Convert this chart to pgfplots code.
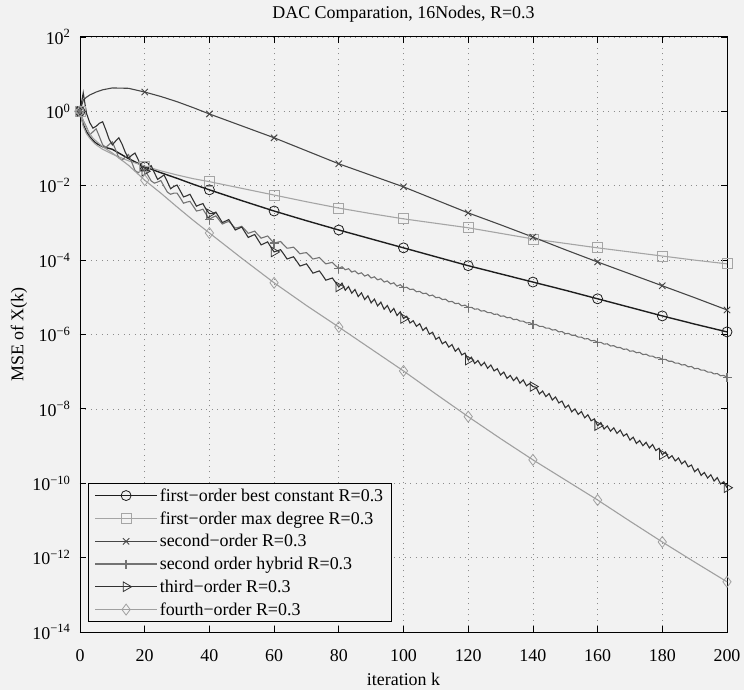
\documentclass[border=0pt]{standalone}
\usepackage{fontspec}
\setmainfont{Liberation Serif}
\usepackage{pgfplots}
\pgfplotsset{compat=1.18}
\usepackage{pgfplotstable}
\definecolor{bg}{RGB}{242,242,242}
\definecolor{c1}{RGB}{30,30,30}
\definecolor{c2}{RGB}{165,165,165}
\definecolor{c3}{RGB}{70,70,70}
\definecolor{c4}{RGB}{115,115,115}
\definecolor{c5}{RGB}{50,50,50}
\definecolor{c6}{RGB}{160,160,160}
\newcommand\f{\fontsize{18}{21.6}\selectfont}

\pgfplotsset{
  legend image code/.code={\draw[mark repeat=2,mark phase=2,#1] plot coordinates {(0bp,0bp) (31bp,0bp) (62bp,0bp)};},
}

% log10 of MSE
\pgfplotstableread{
k bc md so fo
0 0 0 0 0
1 -0.35 -0.40 0.30 -0.25
2 -0.55 -0.60 0.38 -0.45
3 -0.68 -0.72 0.44 -0.60
4 -0.78 -0.82 0.48 -0.72
5 -0.86 -0.90 0.52 -0.80
7 -0.95 -1.02 0.58 -0.95
10 -1.02 -1.15 0.63 -1.12
15 -1.27 -1.33 0.62 -1.45
20 -1.49 -1.47 0.52 -1.85
25 -1.65 -1.60 0.40 -2.20
30 -1.80 -1.71 0.26 -2.57
35 -1.96 -1.81 0.10 -2.93
40 -2.11 -1.89 -0.07 -3.27
50 -2.40 -2.07 -0.39 -3.95
60 -2.68 -2.25 -0.71 -4.61
70 -2.94 -2.43 -1.06 -5.22
80 -3.19 -2.60 -1.41 -5.80
90 -3.43 -2.75 -1.72 -6.39
100 -3.67 -2.89 -2.03 -6.98
110 -3.91 -3.01 -2.38 -7.60
120 -4.15 -3.13 -2.73 -8.21
130 -4.37 -3.28 -3.05 -8.80
140 -4.59 -3.43 -3.38 -9.37
150 -4.81 -3.55 -3.72 -9.91
160 -5.04 -3.67 -4.05 -10.45
170 -5.27 -3.78 -4.37 -11.02
180 -5.50 -3.89 -4.69 -11.58
190 -5.72 -4.00 -5.01 -12.12
200 -5.93 -4.10 -5.34 -12.65
}\smoothdata

\pgfplotstableread{
k th hy
0 0.00 0.00
1 0.50 -0.25
2 -0.05 -0.42
3 -0.30 -0.63
4 -0.45 -0.55
5 -0.40 -0.47
6 -0.32 -0.68
7 -0.28 -0.90
8 -0.50 -0.97
9 -0.75 -0.89
10 -0.90 -0.82
11 -0.80 -1.03
12 -0.71 -1.25
13 -0.88 -1.31
14 -1.10 -1.23
15 -1.26 -1.16
16 -1.18 -1.37
17 -1.12 -1.59
18 -1.30 -1.65
19 -1.50 -1.57
20 -1.61 -1.56
21 -1.52 -1.72
22 -1.46 -1.87
23 -1.65 -1.93
24 -1.83 -1.90
25 -1.77 -1.86
26 -1.71 -2.02
27 -1.89 -2.17
28 -2.08 -2.23
29 -2.02 -2.20
30 -1.98 -2.20
31 -2.14 -2.33
32 -2.30 -2.47
33 -2.27 -2.44
34 -2.23 -2.42
35 -2.39 -2.55
36 -2.55 -2.68
37 -2.51 -2.66
38 -2.48 -2.63
39 -2.64 -2.77
40 -2.75 -2.90
41 -2.75 -2.85
42 -2.71 -2.81
43 -2.85 -2.92
44 -2.99 -3.03
45 -2.95 -2.99
46 -2.91 -2.96
47 -3.05 -3.05
48 -3.19 -3.14
49 -3.15 -3.12
50 -3.11 -3.09
51 -3.25 -3.18
52 -3.39 -3.28
53 -3.35 -3.25
54 -3.31 -3.22
55 -3.45 -3.32
56 -3.59 -3.41
57 -3.55 -3.38
58 -3.51 -3.35
59 -3.65 -3.45
60 -3.78 -3.54
61 -3.75 -3.52
62 -3.72 -3.50
63 -3.84 -3.59
64 -3.97 -3.68
65 -3.94 -3.67
66 -3.91 -3.65
67 -4.03 -3.74
68 -4.16 -3.83
69 -4.13 -3.81
70 -4.10 -3.80
71 -4.22 -3.88
72 -4.35 -3.97
73 -4.32 -3.95
74 -4.29 -3.93
75 -4.41 -4.02
76 -4.54 -4.10
77 -4.51 -4.08
78 -4.48 -4.06
79 -4.60 -4.15
80 -4.72 -4.22
81 -4.62 -4.18
82 -4.81 -4.26
83 -4.71 -4.23
84 -4.89 -4.32
85 -4.79 -4.29
86 -4.98 -4.37
87 -4.88 -4.34
88 -5.06 -4.43
89 -4.96 -4.39
90 -5.15 -4.48
91 -5.05 -4.45
92 -5.23 -4.53
93 -5.13 -4.50
94 -5.32 -4.59
95 -5.22 -4.56
96 -5.40 -4.64
97 -5.30 -4.61
98 -5.49 -4.70
99 -5.39 -4.66
100 -5.57 -4.74
101 -5.51 -4.73
102 -5.69 -4.79
103 -5.63 -4.78
104 -5.78 -4.85
105 -5.71 -4.84
106 -5.89 -4.90
107 -5.81 -4.89
108 -5.99 -4.96
109 -5.94 -4.94
110 -6.13 -5.01
111 -6.07 -5.00
112 -6.25 -5.06
113 -6.19 -5.05
114 -6.34 -5.12
115 -6.27 -5.11
116 -6.45 -5.17
117 -6.37 -5.16
118 -6.55 -5.23
119 -6.50 -5.21
120 -6.69 -5.27
121 -6.61 -5.27
122 -6.78 -5.32
123 -6.70 -5.31
124 -6.84 -5.37
125 -6.75 -5.36
126 -6.91 -5.41
127 -6.82 -5.41
128 -6.98 -5.46
129 -6.92 -5.45
130 -7.09 -5.51
131 -7.01 -5.50
132 -7.18 -5.55
133 -7.10 -5.54
134 -7.24 -5.60
135 -7.15 -5.59
136 -7.31 -5.64
137 -7.22 -5.64
138 -7.38 -5.69
139 -7.32 -5.68
140 -7.40 -5.73
141 -7.42 -5.73
142 -7.60 -5.78
143 -7.52 -5.78
144 -7.67 -5.83
145 -7.59 -5.83
146 -7.76 -5.88
147 -7.68 -5.87
148 -7.84 -5.93
149 -7.79 -5.92
150 -7.97 -5.98
151 -7.90 -5.97
152 -8.08 -6.02
153 -8.00 -6.02
154 -8.15 -6.07
155 -8.07 -6.07
156 -8.24 -6.12
157 -8.16 -6.11
158 -8.32 -6.17
159 -8.27 -6.16
160 -8.45 -6.21
161 -8.37 -6.21
162 -8.54 -6.26
163 -8.46 -6.25
164 -8.60 -6.31
165 -8.51 -6.30
166 -8.66 -6.35
167 -8.57 -6.35
168 -8.73 -6.40
169 -8.67 -6.39
170 -8.84 -6.45
171 -8.76 -6.44
172 -8.93 -6.49
173 -8.85 -6.48
174 -8.99 -6.54
175 -8.90 -6.53
176 -9.05 -6.58
177 -8.96 -6.58
178 -9.12 -6.63
179 -9.06 -6.62
180 -9.23 -6.67
181 -9.16 -6.67
182 -9.33 -6.72
183 -9.26 -6.72
184 -9.40 -6.77
185 -9.32 -6.77
186 -9.48 -6.82
187 -9.40 -6.81
188 -9.56 -6.87
189 -9.51 -6.86
190 -9.69 -6.92
191 -9.61 -6.91
192 -9.79 -6.96
193 -9.71 -6.96
194 -9.86 -7.01
195 -9.77 -7.01
196 -9.94 -7.06
197 -9.85 -7.05
198 -10.02 -7.11
199 -9.96 -7.10
200 -10.12 -7.15
}\zigdata

\pgfplotsset{
  s1/.style={color=c1, line width=1.4pt, mark=o, mark size=5bp, mark options={solid, line width=0.8pt}},
  s2/.style={color=c2, line width=1.1pt, mark=square, mark size=5bp, mark options={solid, line width=0.8pt}},
  s3/.style={color=c3, line width=1.1pt, mark=x, mark size=4.5bp, mark options={solid, line width=0.9pt}},
  s4/.style={color=c4, line width=1.1pt, mark=+, mark size=4.5bp, mark options={solid, line width=1.3pt}},
  s5/.style={color=c5, line width=1.1pt, mark=triangle, mark size=5.5bp, mark options={solid, line width=0.8pt, rotate=-90}},
  s6/.style={color=c6, line width=1.1pt, mark=diamond, mark size=5.5bp, mark options={solid, line width=0.8pt}},
}

\begin{document}
\begin{tikzpicture}
\useasboundingbox (-80bp,-58bp) rectangle (664bp,632bp);
\fill[bg] (-80bp,-58bp) rectangle (664bp,632bp);
\begin{axis}[
  at={(0,0)}, anchor=south west,
  scale only axis, width=647bp, height=595bp,
  xmin=0, xmax=200, ymin=-14, ymax=2,
  clip=false,
  axis background/.style={fill=bg},
  axis line style={black, line width=1pt},
  every tick/.style={black, line width=0.8pt},
  major tick length=6bp,
  tick align=inside,
  xtick={0,20,...,200},
  xticklabels={0,20,40,60,80,100,120,140,160,180,200},
  ytick={-14,-12,...,2},
  yticklabels={10\textsuperscript{−14},10\textsuperscript{−12},10\textsuperscript{−10},10\textsuperscript{−8},10\textsuperscript{−6},10\textsuperscript{−4},10\textsuperscript{−2},10\textsuperscript{0},10\textsuperscript{2}},
  tick label style={font=\f, black},
  xticklabel style={anchor=base, yshift=-29bp},
  yticklabel style={anchor=east, xshift=-6bp},
  grid=major,
  major grid style={black!45, line width=0.7pt, dash pattern=on 1bp off 4.5bp},
  title={DAC Comparation, 16Nodes, R=0.3},
  title style={font=\f, at={(0.5,1)}, anchor=base, yshift=13bp},
  xlabel={iteration k},
  xlabel style={font=\f, at={(0.5,0)}, anchor=base, yshift=-53bp},
  ylabel={MSE of X(k)},
  ylabel style={font=\f, at={(0,0.5)}, anchor=center, rotate=0, yshift=61bp},
  legend cell align=left,
  legend style={at={(0,0)}, anchor=south west, xshift=8bp, yshift=10bp,
    draw=black, line width=0.8pt, fill=bg, font=\f, row sep=4.8bp,
    inner xsep=6bp, inner ysep=3bp},
]
\addplot[s1, forget plot, mark indices={1,10,14,16,18,20,22,24,26,28,30}] table[x=k, y=bc] {\smoothdata};
\addplot[s2, forget plot, mark indices={1,10,14,16,18,20,22,24,26,28,30}] table[x=k, y=md] {\smoothdata};
\addplot[s3, forget plot, mark indices={1,10,14,16,18,20,22,24,26,28,30}] table[x=k, y=so] {\smoothdata};
\addplot[s4, forget plot, mark repeat=20] table[x=k, y=hy] {\zigdata};
\addplot[s5, forget plot, mark repeat=20] table[x=k, y=th] {\zigdata};
\addplot[s6, forget plot, mark indices={1,10,14,16,18,20,22,24,26,28,30}] table[x=k, y=fo] {\smoothdata};
\addlegendimage{s1}\addlegendentry{first−order best constant R=0.3}
\addlegendimage{s2}\addlegendentry{first−order max degree R=0.3}
\addlegendimage{s3}\addlegendentry{second−order R=0.3}
\addlegendimage{s4}\addlegendentry{second order hybrid R=0.3}
\addlegendimage{s5}\addlegendentry{third−order R=0.3}
\addlegendimage{s6}\addlegendentry{fourth−order R=0.3}
\end{axis}
\end{tikzpicture}
\end{document}
